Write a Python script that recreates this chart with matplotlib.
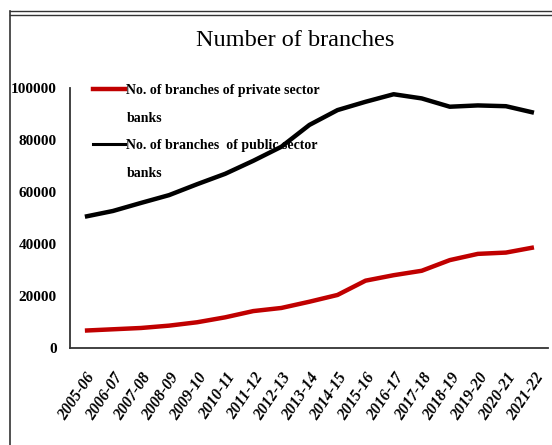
import matplotlib
matplotlib.use("Agg")
import matplotlib.pyplot as plt
from matplotlib.lines import Line2D

years = ["2005-06", "2006-07", "2007-08", "2008-09", "2009-10", "2010-11",
         "2011-12", "2012-13", "2013-14", "2014-15", "2015-16", "2016-17",
         "2017-18", "2018-19", "2019-20", "2020-21", "2021-22"]
private_branches = [6700, 7200, 7700, 8600, 9900, 11800, 14200, 15400, 17800,
                    20400, 25900, 28000, 29700, 33800, 36200, 36700, 38700]
public_branches = [50500, 52700, 55800, 58800, 63000, 67000, 72000, 77400, 85800,
                   91500, 94700, 97600, 96000, 92800, 93300, 93000, 90500]
yticks = [0, 20000, 40000, 60000, 80000, 100000]

plt.rcParams['font.family'] = ['Liberation Serif', 'DejaVu Serif']

fig = plt.figure(figsize=(5.52, 4.45), dpi=100)
ax = fig.add_axes([70/552, 1-348/445, 478/552, 260/445])

x = list(range(len(years)))
ax.plot(x, private_branches, color='#C00000', lw=3.2, solid_capstyle='butt',
        label='No. of branches of private sector')
ax.plot(x, public_branches, color='black', lw=3.2, solid_capstyle='butt',
        label='No. of branches  of public sector')

ax.set_xlim(-0.53, 16.5)
ax.set_ylim(0, 100000)
ax.set_yticks(yticks)
ax.set_yticklabels([str(v) for v in yticks], fontsize=11, fontweight='bold')
ax.set_xticks(x)
ax.set_xticklabels(years, rotation=56, ha='right', va='top', rotation_mode='anchor',
                   fontsize=11.5, fontweight='bold', fontstyle='italic')
ax.tick_params(axis='y', length=0, pad=9.5)
ax.tick_params(axis='x', length=0, pad=16)
for s in ['top', 'right']:
    ax.spines[s].set_visible(False)
for s in ['left', 'bottom']:
    ax.spines[s].set_color('#333333')
    ax.spines[s].set_linewidth(1.3)

blank = Line2D([], [], color='none')
handles = [Line2D([], [], color='#C00000', lw=3.2), blank,
           Line2D([], [], color='black', lw=2.2), blank]
labels = ['No. of branches of private sector', 'banks',
          'No. of branches  of public sector', 'banks']
leg = ax.legend(handles, labels, loc='upper left', bbox_to_anchor=(23/478, 1.015),
                frameon=False, borderpad=0, borderaxespad=0, handlelength=2.3,
                handletextpad=0.1, labelspacing=1.05,
                prop={'family': 'Liberation Serif', 'weight': 'bold', 'size': 10})

fig.text(295/552, 1-40/445, 'Number of branches', ha='center', va='center',
         fontsize=17.5)

# figure frame
fig.add_artist(Line2D([10/552, 1], [1-11/445, 1-11/445], color='#333333', lw=1.0,
                      transform=fig.transFigure))
fig.add_artist(Line2D([10/552, 1], [1-14.5/445, 1-14.5/445], color='#333333', lw=1.0,
                      transform=fig.transFigure))
fig.add_artist(Line2D([10/552, 10/552], [0, 1-11/445], color='#333333', lw=1.2,
                      transform=fig.transFigure))

fig.savefig('out.png', dpi=100)
